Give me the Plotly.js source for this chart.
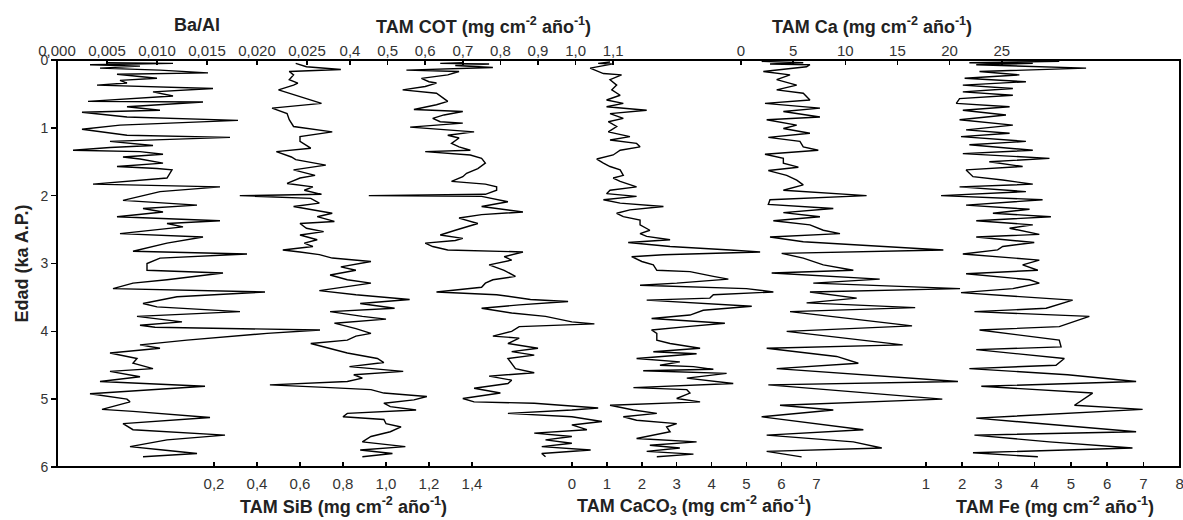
<!DOCTYPE html>
<html>
<head>
<meta charset="utf-8">
<script src="https://cdn.plot.ly/plotly-3.0.1.min.js"></script>
<style>html,body{margin:0;padding:0;background:#fff;}#chart{width:1183px;height:520px;}</style>
</head>
<body>
<div id="chart"></div>
<script>
// ---- Ba/Al ----
const baAlAge = [0.04,0.05,0.07,0.09,0.12,0.15,0.19,0.21,0.27,0.30,
  0.34,0.37,0.42,0.47,0.53,0.61,0.62,0.69,0.74,0.77,
  0.84,0.89,0.96,1.02,1.11,1.14,1.20,1.26,1.29,1.33,
  1.35,1.39,1.43,1.46,1.52,1.57,1.60,1.62,1.74,1.83,
  1.87,1.94,2.01,2.07,2.14,2.19,2.24,2.31,2.37,2.41,
  2.46,2.56,2.61,2.70,2.82,2.86,2.92,3.00,3.10,3.14,
  3.24,3.29,3.37,3.42,3.49,3.59,3.64,3.71,3.78,3.86,
  3.91,3.94,3.98,4.03,4.13,4.20,4.25,4.32,4.40,4.47,
  4.55,4.59,4.67,4.74,4.81,4.92,5.00,5.04,5.15,5.18,
  5.27,5.36,5.45,5.53,5.60,5.70,5.75,5.80,5.85];
const baAl = [0.0050,0.0116,0.0033,0.0083,0.0043,0.0103,0.0151,0.0060,0.0100,0.0063,
  0.0070,0.0040,0.0156,0.0096,0.0116,0.0031,0.0146,0.0070,0.0103,0.0025,
  0.0070,0.0181,0.0063,0.0025,0.0070,0.0173,0.0053,0.0096,0.0053,0.0016,
  0.0083,0.0106,0.0066,0.0083,0.0106,0.0060,0.0100,0.0115,0.0110,0.0036,
  0.0163,0.0103,0.0083,0.0066,0.0140,0.0086,0.0106,0.0060,0.0163,0.0110,
  0.0126,0.0063,0.0146,0.0110,0.0076,0.0190,0.0103,0.0090,0.0090,0.0166,
  0.0110,0.0076,0.0056,0.0208,0.0120,0.0086,0.0100,0.0183,0.0080,0.0125,
  0.0083,0.0098,0.0263,0.0210,0.0130,0.0083,0.0103,0.0053,0.0080,0.0076,
  0.0096,0.0053,0.0083,0.0043,0.0148,0.0033,0.0070,0.0073,0.0045,0.0076,
  0.0153,0.0066,0.0076,0.0168,0.0110,0.0073,0.0106,0.0140,0.0086];

// ---- TAM SiB ----
const sibAge = [0.05,0.10,0.14,0.17,0.22,0.29,0.34,0.37,0.44,0.59,
  0.64,0.71,0.79,0.88,0.98,1.06,1.13,1.20,1.30,1.35,
  1.43,1.47,1.55,1.62,1.70,1.74,1.82,1.87,1.92,1.98,
  2.00,2.04,2.11,2.16,2.26,2.31,2.38,2.41,2.48,2.53,
  2.58,2.65,2.70,2.75,2.80,2.83,2.87,2.92,2.97,3.05,
  3.10,3.17,3.24,3.29,3.34,3.40,3.46,3.53,3.59,3.66,
  3.71,3.78,3.82,3.88,3.96,4.03,4.07,4.13,4.18,4.25,
  4.32,4.40,4.46,4.52,4.59,4.64,4.69,4.74,4.79,4.83,
  4.86,4.91,4.96,5.01,5.06,5.11,5.16,5.21,5.26,5.30,
  5.36,5.41,5.48,5.55,5.63,5.70,5.75,5.80,5.85];
const sib = [0.58,0.63,0.79,0.55,0.57,0.55,0.59,0.57,0.50,0.65,
  0.70,0.47,0.54,0.55,0.57,0.75,0.60,0.60,0.65,0.49,
  0.56,0.58,0.72,0.57,0.67,0.60,0.54,0.66,0.62,0.70,
  0.32,0.65,0.69,0.57,0.75,0.68,0.76,0.60,0.63,0.71,
  0.60,0.68,0.62,0.66,0.52,0.60,0.69,0.75,0.93,0.79,
  0.86,0.74,0.82,0.93,0.82,0.69,0.86,1.11,0.88,1.04,
  0.74,0.89,1.00,0.76,0.86,0.93,0.86,0.82,0.65,0.74,
  0.82,0.96,0.99,0.83,1.08,0.85,0.89,0.82,0.46,0.74,
  0.93,0.99,1.19,1.13,0.99,1.02,1.14,0.82,0.80,0.99,
  1.00,1.07,1.02,0.93,0.89,1.09,0.88,1.03,0.89];

// ---- TAM COT ----
const cotAge = [0.04,0.05,0.06,0.08,0.11,0.15,0.17,0.22,0.27,0.32,
  0.34,0.39,0.44,0.49,0.57,0.61,0.66,0.73,0.76,0.81,
  0.86,0.91,0.93,0.99,1.06,1.11,1.15,1.23,1.28,1.33,
  1.35,1.40,1.45,1.52,1.60,1.67,1.72,1.79,1.83,1.87,
  1.92,1.98,2.00,2.01,2.09,2.16,2.24,2.28,2.33,2.41,
  2.51,2.58,2.63,2.66,2.70,2.75,2.80,2.83,2.90,2.95,
  3.02,3.10,3.19,3.24,3.29,3.35,3.42,3.46,3.53,3.56,
  3.61,3.66,3.73,3.78,3.86,3.89,3.93,4.00,4.07,4.10,
  4.18,4.25,4.30,4.35,4.40,4.47,4.55,4.61,4.66,4.72,
  4.77,4.84,4.91,4.99,5.04,5.06,5.13,5.16,5.21,5.26,
  5.33,5.38,5.45,5.50,5.55,5.60,5.65,5.70,5.75,5.80,5.85];
const cot = [0.70,0.64,0.77,0.68,0.78,0.55,0.69,0.66,0.59,0.61,
  0.63,0.60,0.54,0.63,0.65,0.66,0.63,0.57,0.70,0.65,
  0.62,0.64,0.70,0.56,0.73,0.66,0.69,0.67,0.69,0.72,
  0.60,0.72,0.75,0.76,0.74,0.71,0.70,0.67,0.76,0.79,
  0.79,0.76,0.45,0.75,0.82,0.75,0.86,0.75,0.69,0.74,
  0.68,0.64,0.70,0.68,0.60,0.62,0.66,0.86,0.81,0.83,
  0.77,0.81,0.84,0.78,0.76,0.75,0.63,0.79,0.88,0.98,
  0.85,0.75,0.83,0.92,0.99,1.05,0.85,0.83,0.78,0.85,
  0.82,0.90,0.83,0.89,0.82,0.83,0.84,0.89,0.77,0.83,
  0.82,0.73,0.80,0.70,0.73,0.89,1.06,0.99,0.82,0.99,
  1.07,0.99,1.03,0.89,0.99,0.92,0.99,0.91,1.04,0.91,0.92];

// ---- TAM CaCO3 ----
const caco3Age = [0.03,0.05,0.06,0.12,0.20,0.22,0.29,0.37,0.44,0.52,
  0.59,0.64,0.69,0.74,0.79,0.86,0.91,0.98,1.06,1.13,
  1.18,1.23,1.28,1.33,1.40,1.46,1.52,1.57,1.62,1.70,
  1.74,1.79,1.87,1.92,1.97,2.01,2.06,2.11,2.16,2.21,
  2.26,2.31,2.36,2.43,2.51,2.56,2.60,2.65,2.69,2.75,
  2.80,2.83,2.87,2.90,2.97,3.02,3.10,3.12,3.19,3.23,
  3.29,3.32,3.37,3.42,3.46,3.51,3.54,3.59,3.63,3.69,
  3.76,3.81,3.86,3.88,3.93,3.98,4.03,4.08,4.13,4.18,
  4.22,4.25,4.30,4.33,4.40,4.45,4.50,4.52,4.56,4.58,
  4.62,4.69,4.77,4.83,4.86,4.91,4.99,5.04,5.09,5.16,
  5.21,5.26,5.31,5.36,5.41,5.48,5.58,5.63,5.68,5.72,
  5.77,5.81,5.85];
const caco3 = [1.09,0.75,1.14,0.52,0.90,1.42,1.09,1.28,1.14,1.38,
  0.99,1.47,0.99,2.14,1.09,1.47,1.04,1.28,1.04,1.66,
  1.09,1.85,1.95,1.38,1.18,0.71,0.90,1.09,1.38,1.47,
  1.18,1.38,1.85,1.09,0.99,1.85,0.90,1.38,2.62,1.66,
  1.28,1.47,1.95,1.95,2.23,1.95,2.14,2.81,1.61,2.81,
  4.53,5.39,2.62,1.71,2.00,2.33,2.43,3.38,4.05,4.48,
  3.00,1.95,5.00,5.77,4.05,3.95,2.14,3.95,5.15,3.76,
  3.38,2.28,4.05,4.38,3.29,2.28,2.43,2.43,2.43,2.81,
  3.38,3.67,2.33,3.57,1.85,3.09,2.52,3.48,4.05,2.04,
  4.43,3.29,4.62,1.76,3.29,3.38,3.00,3.67,1.09,1.76,
  2.43,1.47,1.85,3.00,2.71,2.81,1.85,3.57,2.23,3.09,
  2.14,3.48,2.43];

// ---- TAM Ca ----
const caAge = [0.02,0.04,0.06,0.07,0.10,0.17,0.22,0.29,0.37,0.44,
  0.49,0.59,0.64,0.71,0.76,0.84,0.88,0.96,1.01,1.08,
  1.14,1.20,1.28,1.33,1.39,1.45,1.52,1.58,1.63,1.70,
  1.77,1.84,1.92,1.97,2.00,2.06,2.13,2.19,2.25,2.31,
  2.37,2.43,2.51,2.56,2.61,2.68,2.80,2.85,2.92,3.02,
  3.10,3.14,3.23,3.29,3.37,3.42,3.51,3.58,3.65,3.71,
  3.92,4.00,4.20,4.25,4.37,4.47,4.55,4.74,4.79,5.00,
  5.09,5.16,5.26,5.45,5.53,5.63,5.72,5.77,5.85];
const ca = [1.98,5.97,2.78,6.61,6.29,2.14,4.70,3.42,5.34,3.42,
  5.97,6.61,2.30,7.57,4.06,7.57,2.46,5.34,4.06,6.61,
  2.62,5.65,5.97,7.41,2.30,4.06,4.06,5.50,2.62,4.38,
  5.34,5.97,4.06,9.17,12.04,2.78,2.62,8.85,4.06,7.57,
  3.10,6.61,7.89,9.49,2.78,5.97,19.4,3.90,5.97,7.89,
  10.77,2.94,13.3,6.93,21.0,6.61,11.09,6.29,16.7,4.70,
  16.4,4.38,15.5,2.46,9.17,11.25,3.42,20.8,2.62,19.3,
  3.74,8.85,1.98,11.73,2.46,10.77,13.5,2.46,5.81];

// ---- TAM Fe ----
const feAge = [0.02,0.04,0.05,0.07,0.12,0.17,0.22,0.27,0.32,0.37,
  0.42,0.47,0.52,0.57,0.64,0.69,0.74,0.81,0.88,0.96,
  1.03,1.08,1.13,1.20,1.25,1.33,1.38,1.45,1.50,1.57,
  1.62,1.72,1.77,1.83,1.87,1.94,2.00,2.06,2.14,2.20,
  2.26,2.31,2.37,2.43,2.48,2.57,2.61,2.69,2.75,2.80,
  2.86,2.95,3.02,3.10,3.15,3.24,3.29,3.37,3.43,3.54,
  3.66,3.71,3.78,3.93,3.98,4.13,4.23,4.27,4.40,4.50,
  4.55,4.64,4.74,4.81,4.91,5.09,5.15,5.28,5.48,5.53,
  5.63,5.72,5.79,5.85];
const fe = [4.68,2.20,3.95,2.39,5.42,2.48,3.58,2.07,3.76,2.02,
  3.40,2.02,3.40,1.93,1.84,3.31,2.02,3.21,1.93,3.40,
  2.11,3.31,1.97,3.76,2.20,3.95,2.02,4.41,2.75,3.67,
  2.11,2.30,3.12,3.95,1.93,3.76,1.42,4.22,2.11,3.86,
  2.85,4.45,2.39,3.95,3.31,4.13,2.39,3.99,3.12,2.98,
  2.02,4.13,3.67,4.09,2.11,3.86,4.13,3.40,1.97,5.05,
  4.32,2.34,5.51,4.68,2.48,4.68,4.73,2.39,4.82,4.59,
  2.20,4.91,6.80,2.53,5.60,5.10,6.98,2.39,6.80,2.34,
  4.41,6.70,2.30,4.09];

// ---- tick labels ----
const baAlTicks = [0, 0.005, 0.010, 0.015, 0.020, 0.025];
const cotTicks = [0.4, 0.5, 0.6, 0.7, 0.8, 0.9, 1.0, 1.1];
const caTicks = [0, 5, 10, 15, 20, 25];
const sibTicks = [0.2, 0.4, 0.6, 0.8, 1.0, 1.2, 1.4];
const caco3Ticks = [0, 1, 2, 3, 4, 5, 6, 7];
const feTicks = [1, 2, 3, 4, 5, 6, 7, 8];
const ageTicks = [0, 1, 2, 3, 4, 5, 6];

// ---- layout geometry (pixels) ----
const W = 1183, H = 520;
const PL = 57, PR = 1180, PT = 60, PB = 467;
function rng(zeroPx, pxPerUnit) {
  return [(PL - zeroPx) / pxPerUnit, (PR - zeroPx) / pxPerUnit];
}
const FONT = 'Liberation Sans, Arial, Helvetica, sans-serif';
function xax(side, range, ticks, fmt, extra) {
  return Object.assign({
    side: side, anchor: 'y', range: range, tickvals: ticks, tickformat: fmt,
    showgrid: false, zeroline: false, showline: false, fixedrange: true,
    ticks: 'inside', ticklen: 5, tickwidth: 1.5, tickcolor: '#000',
    ticklabeloverflow: 'allow',
    tickfont: {family: FONT, size: 15, color: '#333'}
  }, extra || {});
}
const lineStyle = {color: '#000', width: 1.4};
function tr(x, y, axis) {
  return {x: x, y: y, xaxis: axis, yaxis: 'y', type: 'scatter', mode: 'lines',
    line: lineStyle, hoverinfo: 'skip', showlegend: false};
}
const data = [
  tr(baAl, baAlAge, 'x'),
  tr(cot, cotAge, 'x2'),
  tr(ca, caAge, 'x3'),
  tr(sib, sibAge, 'x4'),
  tr(caco3, caco3Age, 'x5'),
  tr(fe, feAge, 'x6')
];
const px = v => (v - PL) / (PR - PL);
const py = v => (PB - v) / (PB - PT);
const unit = ' (mg cm<sup>-2</sup> año<sup>-1</sup>)';
function ann(text, x, y) {
  return {text: '<b>' + text + '</b>', xref: 'paper', yref: 'paper', x: px(x), y: py(y),
    xanchor: 'center', yanchor: 'middle', showarrow: false,
    font: {family: FONT, size: 18, color: '#222'}};
}
const layout = {
  width: W, height: H,
  margin: {l: PL, r: W - PR, t: PT, b: H - PB, pad: 0},
  paper_bgcolor: '#fff', plot_bgcolor: '#fff',
  separators: ',.',
  showlegend: false,
  xaxis: xax('top', rng(57, 10000), baAlTicks, '.3f'),
  xaxis2: xax('top', rng(199.6, 376), cotTicks, '.1f', {overlaying: 'x'}),
  xaxis3: xax('top', rng(741, 10.43), caTicks, 'd', {overlaying: 'x'}),
  xaxis4: xax('bottom', rng(171, 215), sibTicks, '.1f', {overlaying: 'x', ticklabelstandoff: 6}),
  xaxis5: xax('bottom', rng(572, 34.9), caco3Ticks, 'd', {overlaying: 'x', ticklabelstandoff: 6}),
  xaxis6: xax('bottom', rng(889.6, 36.25), feTicks, 'd', {overlaying: 'x', ticklabelstandoff: 6}),
  yaxis: {
    range: [6, 0], tickvals: ageTicks, showgrid: false, zeroline: false, showline: false,
    ticks: 'outside', ticklen: 5, tickwidth: 1.5, tickcolor: '#000', fixedrange: true,
    tickfont: {family: FONT, size: 14, color: '#333'},
    title: {text: '<b>Edad (ka A.P.)</b>', standoff: 7, font: {family: FONT, size: 18, color: '#222'}}
  },
  shapes: [{type: 'rect', xref: 'paper', yref: 'paper', x0: 0, x1: 1, y0: 0, y1: 1,
    line: {color: '#000', width: 2}, fillcolor: 'rgba(0,0,0,0)'}],
  annotations: [
    ann('Ba/Al', 197, 25),
    ann('TAM COT' + unit, 483, 25),
    ann('TAM Ca' + unit, 872, 25),
    ann('TAM SiB' + unit, 343, 505),
    ann('TAM CaCO<sub>3</sub>' + unit, 694, 505),
    ann('TAM Fe' + unit, 1055, 505)
  ]
};
Plotly.newPlot('chart', data, layout, {displayModeBar: false, staticPlot: true});
</script>
</body>
</html>
